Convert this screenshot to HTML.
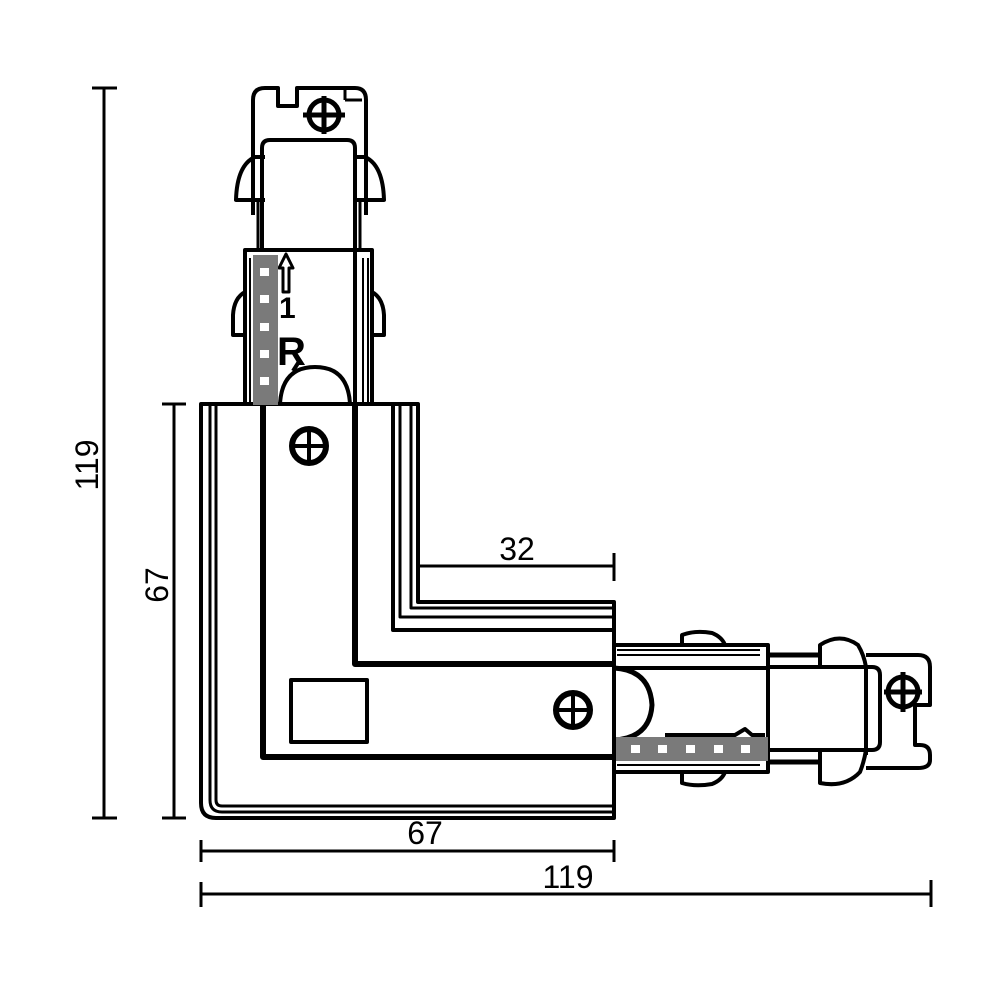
<!DOCTYPE html>
<html><head><meta charset="utf-8"><style>html,body{margin:0;padding:0;background:#fff}svg{display:block}</style></head>
<body>
<svg width="1000" height="1000" viewBox="0 0 1000 1000" xmlns="http://www.w3.org/2000/svg" font-family="Liberation Sans, sans-serif">
<rect width="1000" height="1000" fill="#fff"/>
<g fill="none" stroke="#000" stroke-width="3" stroke-linejoin="round">
<!-- dimension lines -->
<line x1="104" y1="88" x2="104" y2="818"/>
<line x1="92" y1="88" x2="117" y2="88"/><line x1="92" y1="818" x2="117" y2="818"/>
<line x1="174" y1="404" x2="174" y2="818"/>
<line x1="162" y1="404" x2="186" y2="404"/><line x1="162" y1="818" x2="186" y2="818"/>
<line x1="420" y1="566" x2="614" y2="566"/><line x1="614" y1="553" x2="614" y2="581"/>
<line x1="201" y1="851" x2="614" y2="851"/><line x1="201" y1="840" x2="201" y2="862"/><line x1="614" y1="840" x2="614" y2="862"/>
<line x1="201" y1="894" x2="931" y2="894"/><line x1="201" y1="882" x2="201" y2="907"/><line x1="931" y1="880" x2="931" y2="907"/>
</g>
<g fill="none" stroke="#000" stroke-width="4" stroke-linejoin="round">
<!-- top connector -->
<path d="M253 215 L253 100 Q253 88 265 88 L278 88 L278 106 L297 106 L297 88 L355 88 Q366 88 366 100 L366 215"/>
<line x1="345" y1="90" x2="345" y2="100" stroke-width="3"/><line x1="345" y1="100" x2="362" y2="100" stroke-width="3"/>
<path d="M265 157 L255 157 Q237 165 236 200 L265 200"/>
<path d="M355 157 L365 157 Q383 165 384 200 L355 200"/>
<path d="M262 250 L262 148 Q262 140 270 140 L347 140 Q355 140 355 148 L355 250"/>
<line x1="258" y1="200" x2="258" y2="250" stroke-width="3"/><line x1="360" y1="200" x2="360" y2="250" stroke-width="3"/>
<rect x="245" y="250" width="127" height="154"/>
<line x1="250" y1="258" x2="250" y2="404" stroke-width="2"/>
<line x1="355" y1="250" x2="355" y2="404"/>
<line x1="363" y1="258" x2="363" y2="404" stroke-width="2"/><line x1="368" y1="258" x2="368" y2="404" stroke-width="2"/>
<path d="M245 292 Q234 298 233 315 L233 335 L245 335"/>
<path d="M372 292 Q383 298 384 315 L384 335 L372 335"/>
<path d="M280 404 Q282 367 315 367 Q348 367 350 404"/>
<line x1="293" y1="371" x2="300" y2="360" stroke-width="4"/>
<path d="M283 292 L283 268 L279 268 L286 254 L293 268 L289 268 L289 292 Z" stroke-width="3"/>
<circle cx="324" cy="115" r="15" stroke-width="5"/>
<line x1="324" y1="96" x2="324" y2="134" stroke-width="5"/><line x1="303" y1="115" x2="345" y2="115" stroke-width="5"/>

<!-- main body -->
<path d="M201 404 L418 404 L418 602 L614 602 L614 818 L216 818 Q201 818 201 803 Z"/>
<path d="M210 404 L210 800 Q210 812 222 812 L614 812" stroke-width="3"/>
<path d="M216 404 L216 800 Q216 806 222 806 L614 806" stroke-width="3"/>
<path d="M393 404 L393 630 L614 630" stroke-width="4"/>
<path d="M400 404 L400 617 L614 617" stroke-width="3"/>
<path d="M411 404 L411 608 L614 608" stroke-width="3"/>
<path d="M263 404 L263 757 L614 757 M355 404 L355 664 L614 664" stroke-width="6"/>
<rect x="291" y="680" width="76" height="62"/>
<circle cx="309" cy="446" r="17" stroke-width="6"/>
<line x1="309" y1="431" x2="309" y2="461" stroke-width="4"/><line x1="294" y1="446" x2="324" y2="446" stroke-width="4"/>
<circle cx="573" cy="710" r="17" stroke-width="6"/>
<line x1="573" y1="695" x2="573" y2="725" stroke-width="4"/><line x1="558" y1="710" x2="588" y2="710" stroke-width="4"/>

<!-- right connector -->
<rect x="614" y="645" width="154" height="127"/>
<line x1="617" y1="650" x2="760" y2="650" stroke-width="2"/><line x1="617" y1="655" x2="760" y2="655" stroke-width="2"/>
<line x1="614" y1="668" x2="768" y2="668"/>
<line x1="617" y1="765" x2="760" y2="765" stroke-width="2"/><line x1="617" y1="760" x2="760" y2="760" stroke-width="2"/>
<path d="M682 645 L682 635 Q695 630 712 633 Q722 637 725 645"/>
<path d="M682 772 L682 783 Q695 787 712 784 Q722 780 725 772"/>
<path d="M614 668 Q650 670 652 705 Q650 738 614 740" stroke-width="5"/>
<path d="M768 667 L872 667 Q880 667 880 675 L880 742 Q880 750 872 750 L768 750"/>
<line x1="768" y1="655" x2="820" y2="655" stroke-width="5"/><line x1="768" y1="762" x2="820" y2="762" stroke-width="5"/>
<path d="M820 667 L820 645 Q840 632 858 645 Q864 655 866 667"/>
<path d="M820 750 L820 783 Q845 788 860 772 Q864 762 866 750"/>
<path d="M866 655 L918 655 Q930 655 930 667 L930 705 L915 705 L915 745 L920 745 Q930 745 930 755 L930 760 Q930 768 918 768 L866 768"/>
<line x1="866" y1="668" x2="866" y2="755"/>
<circle cx="903" cy="692" r="15" stroke-width="5"/>
<line x1="903" y1="672" x2="903" y2="712" stroke-width="5"/><line x1="884" y1="692" x2="922" y2="692" stroke-width="5"/>
<path d="M665 735 L735 735 L745 729 L752 735 L765 735" stroke-width="4"/>
</g>
<!-- grey strips -->
<rect x="253" y="255" width="25" height="150" fill="#7a7a7a"/>
<g fill="#fff">
<rect x="260" y="268" width="9" height="8"/><rect x="260" y="295" width="9" height="8"/><rect x="260" y="323" width="9" height="8"/><rect x="260" y="350" width="9" height="8"/><rect x="260" y="377" width="9" height="8"/>
</g>
<rect x="616" y="737" width="152" height="24" fill="#7a7a7a"/>
<g fill="#fff">
<rect x="631" y="745" width="9" height="8"/><rect x="658" y="745" width="9" height="8"/><rect x="686" y="745" width="9" height="8"/><rect x="714" y="745" width="9" height="8"/><rect x="741" y="745" width="9" height="8"/>
</g>
<!-- labels -->
<text x="279" y="318" font-size="30" font-weight="bold">1</text>
<text x="277" y="365" font-size="40" font-weight="bold">R</text>
<g font-size="32" fill="#000" text-anchor="middle">
<text x="517" y="560">32</text>
<text x="425" y="844">67</text>
<text x="568" y="888">119</text>
<text transform="translate(98,465) rotate(-90)">119</text>
<text transform="translate(168,585) rotate(-90)">67</text>
</g>
</svg>
</body></html>
